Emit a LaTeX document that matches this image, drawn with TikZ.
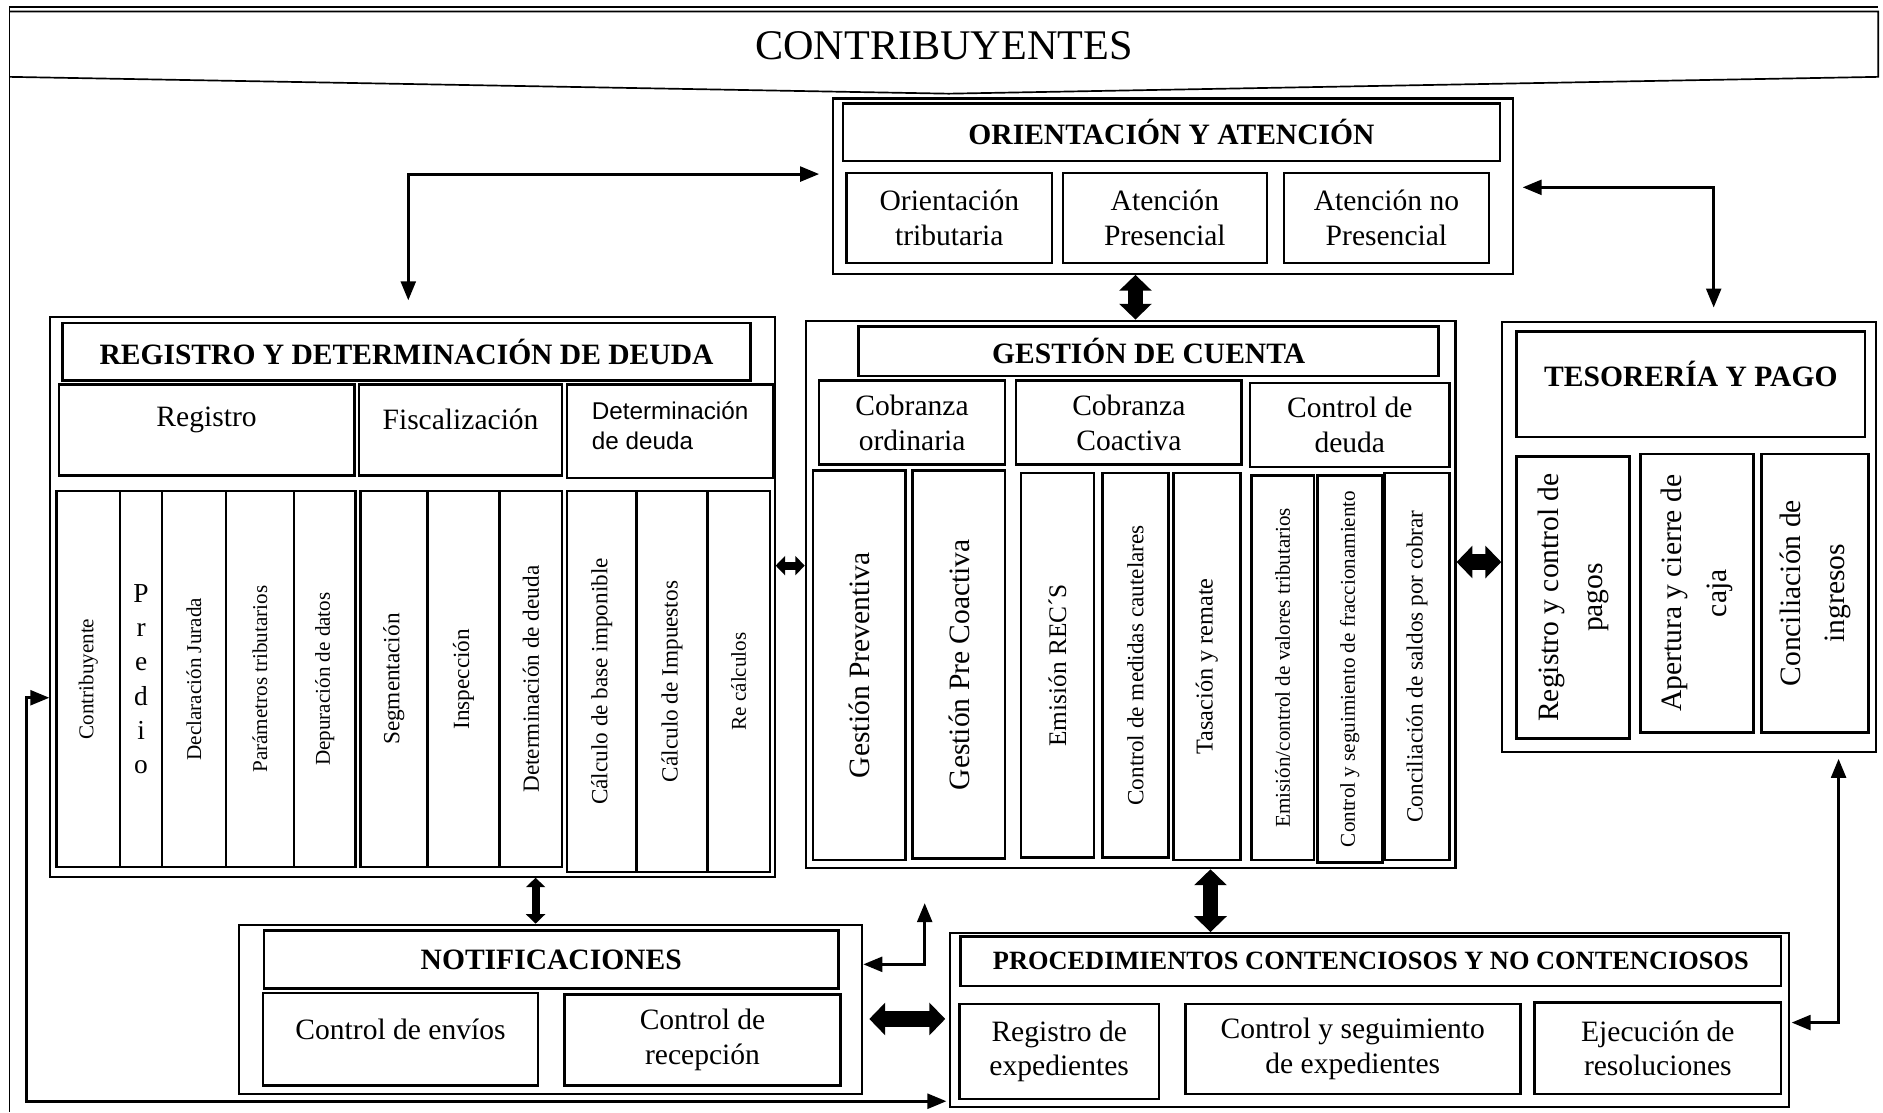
\documentclass[tikz,border=0pt]{standalone}
\usepackage{fontspec}
\setmainfont{Liberation Serif}
\setsansfont{Liberation Sans}
\usetikzlibrary{arrows.meta,calc}

\newcommand{\fbig}{\fontsize{20}{24}\selectfont}
\newcommand{\fhead}{\fontsize{14}{17}\selectfont\bfseries}
\newcommand{\fsub}{\fontsize{14}{16.5}\selectfont}
\newcommand{\fpt}[1]{\fontsize{#1}{#1}\selectfont}

\tikzset{
	grp/.style 2 args={draw, line width=1pt, minimum width=#1*0.2mm, minimum height=#2*0.2mm, inner sep=0pt},
	box/.style 2 args={draw, line width=1.2pt, minimum width=#1*0.2mm, minimum height=#2*0.2mm, inner sep=0pt, align=center, font=\fsub},
	col/.style 2 args={draw, line width=1.2pt, rotate=90, minimum width=#2*0.2mm, minimum height=#1*0.2mm, inner sep=0pt, align=center},
	conn/.style={line width=1.4pt, {Triangle[length=9pt,width=7pt]}-{Triangle[length=9pt,width=7pt]}},
	fat/.style={line width=7.5pt, {Triangle[length=7.5pt,width=15pt]}-{Triangle[length=7.5pt,width=15pt]}},
	fatsm/.style={line width=3.8pt, {Triangle[length=4.5pt,width=9pt]}-{Triangle[length=4.5pt,width=9pt]}}
}

\begin{document}
\begin{tikzpicture}[x=0.2mm, y=-0.2mm]
	\useasboundingbox (0,0) rectangle (1568,926);

	\draw[line width=1pt]   (8,5.5) -- (1564,5.5);
	\draw[line width=0.8pt] (8,5) -- (8,926);
	\draw[line width=0.8pt] (8,9.5) -- (1564,9.5) -- (1564,64) -- (790,78) -- (8,64);
	\node[font=\fbig] (contrib) at (786,38) {CONTRIBUYENTES};

	\node[grp={566}{146}]               (oyaframe) at (977,155)     {};
	\node[box={547}{48}, font=\fhead]   (oyat)     at (975.5,110)   {ORIENTACIÓN Y ATENCIÓN};
	\node[box={171}{75}]                (ori1)     at (790.5,181.5) {Orientación\\tributaria};
	\node[box={170}{75}]                (ori2)     at (970,181.5)   {Atención\\Presencial};
	\node[box={171}{75}]                (ori3)     at (1154.5,181.5){Atención no\\Presencial};

	\node[grp={603}{466}]               (regframe) at (343.5,497)   {};
	\node[box={573}{48}, font=\fhead]   (regt)     at (338.5,293)   {REGISTRO Y DETERMINACIÓN DE DEUDA};
	\node[box={246}{76}, label={[font=\fsub, yshift=1.7mm]center:Registro}]      (reg1) at (172,358)   {};
	\node[box={169}{76}, label={[font=\fsub, yshift=1.7mm]center:Fiscalización}] (reg2) at (383.5,358) {};
	\node[box={172}{78}, label={[font=\sffamily\fontsize{11.5}{14}\selectfont, align=left, yshift=0.9mm]center:Determinación\\de deuda}] (reg3) at (558,359) {};

	\node[col={53}{313}, font=\fpt{10}] (c1)  at (73.5,565.5)  {Contribuyente};
	\node[box={35}{313}, font=\fontsize{13}{16.2}\selectfont] (c2) at (117.5,565.5) {P\\r\\e\\d\\i\\o};
	\node[col={53}{313}, font=\fpt{10}] (c3)  at (161.5,565.5) {Declaración Jurada};
	\node[col={57}{313}, font=\fpt{10}] (c4)  at (216.5,565.5) {Parámetros tributarios};
	\node[col={51}{313}, font=\fpt{10}] (c5)  at (270.5,565.5) {Depuración de datos};
	\node[col={56}{313}, font=\fpt{11}] (c6)  at (328,565.5)   {Segmentación};
	\node[col={60}{313}, font=\fpt{11}] (c7)  at (386,565.5)   {Inspección};
	\node[col={52}{313}, font=\fpt{11}] (c8)  at (442,565.5)   {Determinación de deuda};
	\node[col={58}{317}, font=\fpt{11}] (c9)  at (501,567.5)   {Cálculo de base imponible};
	\node[col={59}{317}, font=\fpt{11}] (c10) at (559.5,567.5) {Cálculo de Impuestos};
	\node[col={52}{317}, font=\fpt{10}] (c11) at (615,567.5)   {Re cálculos};

	\node[grp={541}{456}]               (gcframe)  at (941.5,495)   {};
	\node[box={483}{41}, font=\fhead]   (gct)      at (956.5,292.5) {GESTIÓN DE CUENTA};
	\node[box={155}{70}]                (g1)       at (759.5,352)   {Cobranza\\ordinaria};
	\node[box={188}{70}]                (g2)       at (940,352)     {Cobranza\\Coactiva};
	\node[box={166}{70}]                (g3)       at (1124,354)    {Control de\\deuda};

	\node[col={77}{324}, font=\fpt{14}]   (d1) at (715.5,554)  {Gestión Preventiva};
	\node[col={77}{323}, font=\fpt{14}]   (d2) at (798.5,553.5){Gestión Pre Coactiva};
	\node[col={61}{320}, font=\fpt{12}]   (d3) at (880.5,554)  {Emisión REC´S};
	\node[col={55}{320}, font=\fpt{11}]   (d4) at (945.5,554)  {Control de medidas cautelares};
	\node[col={56}{322}, font=\fpt{11.5}] (d5) at (1005,555)   {Tasación y remate};
	\node[col={52}{320}, font=\fpt{10}]   (d6) at (1068,556)   {Emisión/control de valores tributarios};
	\node[col={54}{322}, font=\fpt{10}]   (d7) at (1124,557)   {Control y seguimiento de fraccionamiento};
	\node[col={54}{322}, font=\fpt{11}]   (d8) at (1180,555)   {Conciliación de saldos por cobrar};

	\node[grp={311}{358}]               (tpframe)  at (1406.5,447)  {};
	\node[box={290}{88}, label={[font=\fhead, yshift=1.7mm]center:TESORERÍA Y PAGO}] (tpt) at (1408,320) {};
	\node[col={94}{235}, font=\fontsize{14}{21}\selectfont] (t1) at (1310,497.5) {Registro y control de\\pagos};
	\node[col={94}{232}, font=\fontsize{14}{21}\selectfont] (t2) at (1413,494)   {Apertura y cierre de\\caja};
	\node[col={89}{232}, font=\fontsize{14}{21}\selectfont] (t3) at (1511.5,494) {Conciliación de\\ingresos};

	\node[grp={519}{141}]               (ntframe)  at (458.5,840.5) {};
	\node[box={478}{48}, font=\fhead]   (ntt)      at (459,799)     {NOTIFICACIONES};
	\node[box={229}{77}, label={[font=\fsub, yshift=1.6mm]center:Control de envíos}] (n1) at (333.5,865.5) {};
	\node[box={230}{76}]                (n2)       at (585,866)     {Control de\\recepción};

	\node[grp={699}{145}]               (pcframe)  at (1140.5,849.5){};
	\node[box={683}{41}, font=\fontsize{12.5}{15}\selectfont\bfseries] (pct) at (1141.5,800.5) {PROCEDIMIENTOS CONTENCIOSOS Y NO CONTENCIOSOS};
	\node[box={166}{79}]                (p1)       at (882,875.5)   {Registro de\\expedientes};
	\node[box={279}{75}]                (p2)       at (1126.5,873.5){Control y seguimiento\\de expedientes};
	\node[box={205}{76}]                (p3)       at (1380.5,873)  {Ejecución de\\resoluciones};

	\coordinate (ntup) at (770,752);

	\draw[conn]  ($(regframe.north)+(-3.5,-13)$) |- ($(oyaframe.west |- ori1.north)+(-11,2)$);
	\draw[conn]  ($(oyaframe.east)+(7,1)$) -| ($(tpframe.north)+(20.5,-11)$);
	\draw[fat]   (oyaframe.south -| d4.center) -- (gcframe.north -| d4.center);
	\draw[fatsm] ($(regframe.east)+(0,-26)$) -- ($(gcframe.west)+(0,-24)$);
	\draw[fat]   ($(gcframe.east)+(0,-27)$) -- ($(tpframe.west)+(0,21)$);
	\draw[fatsm] ($(regframe.south -| c8.center)+(4,0)$) -- ($(ntframe.north -| c8.center)+(4,0)$);
	\draw[fat]   ($(gcframe.south -| d5.center)+(3,0)$) -- ($(pcframe.north -| d5.center)+(3,0)$);
	\draw[fat]   ($(ntframe.east)+(5,8)$) -- ($(pcframe.west)+(-3,-1)$);
	\draw[conn]  (ntup) |- ($(ntframe.east)+(0,-37.5)$);
	\draw[conn]  ($(pcframe.east)+(1,2)$) -| ($(tpframe.south)+(124.5,5)$);
	\draw[conn]  ($(regframe.west)+(0,84)$) -- ++(-19,0) |- ($(pcframe.west)+(-2,67.5)$);
\end{tikzpicture}
\end{document}
